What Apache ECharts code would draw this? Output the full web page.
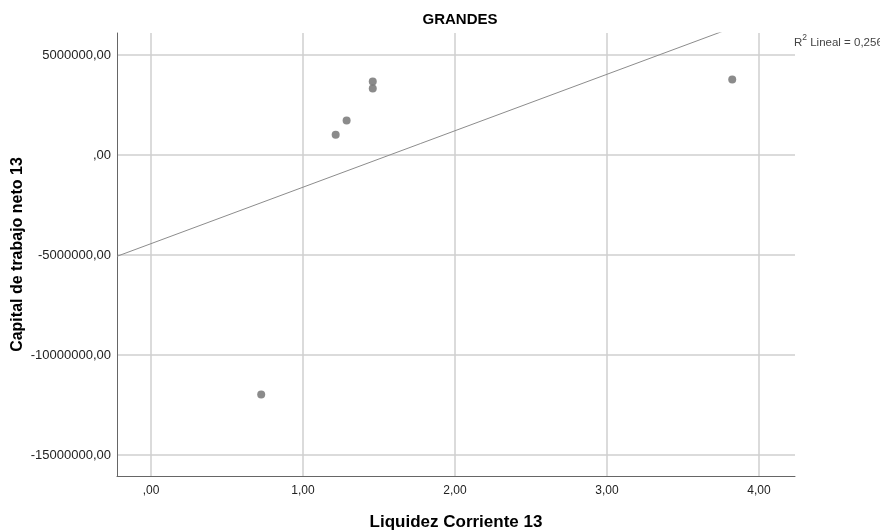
<!DOCTYPE html>
<html>
<head>
<meta charset="utf-8">
<script src="https://cdn.jsdelivr.net/npm/echarts@6/dist/echarts.min.js"></script>
<style>html,body{margin:0;padding:0;background:#fff;}#c{width:880px;height:531px;}</style>
</head>
<body>
<div id="c"></div>
<script>
// Data
const liquidez = [0.725, 1.215, 1.287, 1.459, 1.459, 3.824];
const capital = [-11970000, 1015000, 1730000, 3320000, 3670000, 3780000];
const xTicks = [0, 1, 2, 3, 4];
const yTicks = [-15000000, -10000000, -5000000, 0, 5000000];
const r2Text = '0,256';

const xMin = -0.2237, xMax = 4.237;
const yMin = -16050000, yMax = 6100000;

function fmt(v) {
  let s = Math.abs(v).toFixed(2).replace('.', ',');
  if (s.startsWith('0,')) s = s.slice(1);
  return (v < 0 ? '-' : '') + s;
}

// linear fit (least squares) of the plotted points
const n = liquidez.length;
const mx = liquidez.reduce((a, b) => a + b, 0) / n;
const my = capital.reduce((a, b) => a + b, 0) / n;
let sxy = 0, sxx = 0;
for (let i = 0; i < n; i++) { sxy += (liquidez[i] - mx) * (capital[i] - my); sxx += (liquidez[i] - mx) ** 2; }
const slope = sxy / sxx, icpt = my - slope * mx;
const fitLine = [[xMin, icpt + slope * xMin], [xMax, icpt + slope * xMax]];

const font = 'Liberation Sans, Arial, sans-serif';
const chart = echarts.init(document.getElementById('c'));
chart.setOption({
  animation: false,
  backgroundColor: '#fff',
  title: {
    text: 'GRANDES', left: 455, top: 7, textAlign: 'center',
    textStyle: { fontFamily: font, fontSize: 15, fontWeight: 'bold', color: '#000' }
  },
  grid: { left: 117, right: 85, top: 33, bottom: 55, containLabel: false, outerBoundsMode: 'none' },
  xAxis: {
    type: 'value', min: xMin, max: xMax,
    name: 'Liquidez Corriente 13', nameLocation: 'middle', nameGap: 38,
    nameTextStyle: { fontFamily: font, fontSize: 17, fontWeight: 'bold', color: '#000' },
    axisLine: { show: true, onZero: false, lineStyle: { color: '#666', width: 1 } },
    axisTick: { show: false, customValues: xTicks },
    axisLabel: { customValues: xTicks, formatter: fmt, fontFamily: font, fontSize: 12, color: '#222', margin: 9 },
    splitLine: { show: true, lineStyle: { color: '#cfcfcf', width: 1.5 } }
  },
  yAxis: {
    type: 'value', min: yMin, max: yMax,
    name: 'Capital de trabajo neto 13', nameLocation: 'middle', nameGap: 91, nameRotate: 90,
    nameMoveOverlap: false,
    nameTextStyle: { fontFamily: font, fontSize: 16, fontWeight: 'bold', color: '#000' },
    axisLine: { show: true, onZero: false, lineStyle: { color: '#666', width: 1 } },
    axisTick: { show: false, customValues: yTicks },
    axisLabel: { customValues: yTicks, formatter: fmt, fontFamily: font, fontSize: 13, color: '#222', margin: 6 },
    splitLine: { show: true, lineStyle: { color: '#cfcfcf', width: 1.5 } }
  },
  series: [
    {
      type: 'line', data: fitLine, showSymbol: false, symbol: 'none', clip: true,
      lineStyle: { color: '#8c8c8c', width: 1 }, z: 2, silent: true
    },
    {
      type: 'scatter', data: liquidez.map((x, i) => [x, capital[i]]),
      symbol: 'circle', symbolSize: 8,
      itemStyle: { color: '#6e6e6e' }, z: 3
    }
  ],
  graphic: [{
    type: 'text', left: 794, top: 33,
    style: {
      text: '{a|R}{s|2}{a| Lineal = ' + r2Text + '}',
      rich: {
        a: { fontFamily: font, fontSize: 11.5, fill: '#444', verticalAlign: 'bottom', lineHeight: 16 },
        s: { fontFamily: font, fontSize: 8.5, fill: '#444', verticalAlign: 'top', lineHeight: 16 }
      }
    }
  }]
});
</script>
</body>
</html>
